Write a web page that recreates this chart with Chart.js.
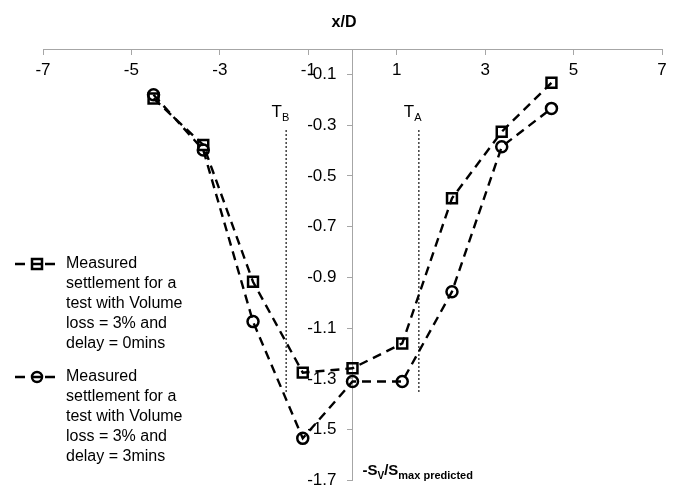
<!DOCTYPE html>
<html>
<head>
<meta charset="utf-8">
<script src="https://cdn.jsdelivr.net/npm/chart.js@4.4.1/dist/chart.umd.min.js"></script>
<style>
  html, body { margin: 0; padding: 0; background: #fff; }
  #chart-box { position: relative; width: 679px; height: 486px; }
</style>
</head>
<body>
<div id="chart-box"><canvas id="settlement-chart" width="679" height="486"></canvas></div>
<script>
// values
const xOverD = [-4.5, -3.375, -2.25, -1.125, 0, 1.125, 2.25, 3.375, 4.5];
const settleDelay0 = [-0.195, -0.378, -0.917, -1.275, -1.258, -1.16, -0.588, -0.326, -0.133];
const settleDelay3 = [-0.18, -0.398, -1.074, -1.534, -1.31, -1.31, -0.956, -0.385, -0.234];

// tunnel axis markers (dotted verticals)
const tunnelBX = [-1.5, -1.5];
const tunnelAX = [1.5, 1.5];
const tunnelY = [-0.32, -1.36];

const xTicks = [-7, -5, -3, -1, 1, 3, 5, 7];
const yTicks = [-1.7, -1.5, -1.3, -1.1, -0.9, -0.7, -0.5, -0.3, -0.1];

const legendDelay0 = ['Measured', 'settlement for a', 'test with Volume', 'loss = 3% and', 'delay = 0mins'];
const legendDelay3 = ['Measured', 'settlement for a', 'test with Volume', 'loss = 3% and', 'delay = 3mins'];

const FONT = "'Liberation Sans', Arial, sans-serif";
const AXIS_GREY = '#a6a6a6';

const toPoints = (xs, ys) => xs.map((x, i) => ({ x: x, y: ys[i] }));

// y tick labels, legend, tunnel labels and axis titles drawn on top of the chart
// (chart.js puts y labels right on a positioned axis line, so they are done here)
const decorations = {
  id: 'decorations',
  afterDraw(chart) {
    const ctx = chart.ctx;
    const xs = chart.scales.x;
    const ys = chart.scales.y;
    const x0 = xs.getPixelForValue(0);
    ctx.save();
    ctx.fillStyle = '#000';

    // y tick labels
    ctx.font = '17px ' + FONT;
    ctx.textAlign = 'right';
    ctx.textBaseline = 'middle';
    yTicks.forEach(v => ctx.fillText(v.toFixed(1), x0 - 16, ys.getPixelForValue(v)));

    ctx.textBaseline = 'alphabetic';

    // x/D title
    ctx.font = 'bold 16px ' + FONT;
    ctx.textAlign = 'center';
    ctx.fillText('x/D', 344, 27);

    // -Sv/Smax predicted title
    ctx.textAlign = 'left';
    let tx = x0 + 10;
    const ty = ys.getPixelForValue(-1.7) - 6;
    const parts = [['-S', 15, 0], ['V', 10, 4], ['/S', 15, 0], ['max predicted', 11, 4]];
    parts.forEach(p => {
      ctx.font = 'bold ' + p[1] + 'px ' + FONT;
      ctx.fillText(p[0], tx, ty + p[2]);
      tx += ctx.measureText(p[0]).width;
    });

    // T_B and T_A labels
    const tLabel = (name, sub, xv) => {
      const px = xs.getPixelForValue(xv);
      const py = ys.getPixelForValue(-0.267);
      ctx.font = '17px ' + FONT;
      ctx.fillText(name, px, py);
      const w = ctx.measureText(name).width;
      ctx.font = '11px ' + FONT;
      ctx.fillText(sub, px + w, py + 4);
    };
    tLabel('T', 'B', -1.83);
    tLabel('T', 'A', 1.16);

    // legend
    const entry = (lines, style, top) => {
      ctx.strokeStyle = '#000';
      ctx.lineWidth = 2.5;
      ctx.setLineDash([]);
      ctx.beginPath();
      ctx.moveTo(15, top); ctx.lineTo(25, top);
      ctx.moveTo(45, top); ctx.lineTo(55, top);
      ctx.moveTo(32, top); ctx.lineTo(42, top);
      ctx.stroke();
      ctx.beginPath();
      if (style === 'rect') {
        ctx.rect(32, top - 5, 10, 10);
      } else {
        ctx.arc(37, top, 5, 0, Math.PI * 2);
      }
      ctx.stroke();
      ctx.font = '16px ' + FONT;
      ctx.textBaseline = 'middle';
      lines.forEach((l, i) => ctx.fillText(l, 66, top + i * 20));
      ctx.textBaseline = 'alphabetic';
    };
    entry(legendDelay0, 'rect', 264);
    entry(legendDelay3, 'circle', 377);

    ctx.restore();
  }
};

const seriesStyle = {
  showLine: true,
  borderColor: '#000',
  borderWidth: 2.4,
  borderDash: [9, 6],
  pointBorderColor: '#000',
  pointBackgroundColor: 'rgba(0,0,0,0)',
  pointBorderWidth: 2.5,
  fill: false
};

const tunnelStyle = {
  showLine: true,
  borderColor: '#000',
  borderWidth: 1.5,
  borderDash: [1.5, 2.5],
  pointRadius: 0,
  fill: false
};

new Chart(document.getElementById('settlement-chart'), {
  type: 'scatter',
  data: {
    datasets: [
      Object.assign({ data: toPoints(tunnelBX, tunnelY) }, tunnelStyle),
      Object.assign({ data: toPoints(tunnelAX, tunnelY) }, tunnelStyle),
      Object.assign({ label: legendDelay0.join(' '), data: toPoints(xOverD, settleDelay0), pointStyle: 'rect', pointRadius: 7 }, seriesStyle),
      Object.assign({ label: legendDelay3.join(' '), data: toPoints(xOverD, settleDelay3), pointStyle: 'circle', pointRadius: 5.5 }, seriesStyle)
    ]
  },
  options: {
    responsive: false,
    animation: false,
    events: [],
    layout: { autoPadding: false, padding: { left: 43, right: 17, top: 49, bottom: 5.5 } },
    plugins: { legend: { display: false }, tooltip: { enabled: false }, title: { display: false } },
    scales: {
      x: {
        type: 'linear',
        position: { y: 0 },
        min: -7,
        max: 7,
        afterBuildTicks: s => { s.ticks = xTicks.map(v => ({ value: v })); },
        grid: { drawOnChartArea: false, drawTicks: true, tickLength: 5, color: AXIS_GREY },
        border: { color: AXIS_GREY, width: 1 },
        ticks: { color: '#000', font: { family: FONT, size: 17 }, padding: 6, autoSkip: false, maxRotation: 0 }
      },
      y: {
        type: 'linear',
        position: { x: 0 },
        min: -1.7,
        max: 0,
        afterBuildTicks: s => { s.ticks = yTicks.map(v => ({ value: v })); },
        afterFit: s => { s.paddingTop = 0; s.paddingBottom = 0; },
        grid: { drawOnChartArea: false, drawTicks: true, tickLength: 5, color: AXIS_GREY },
        border: { color: AXIS_GREY, width: 1 },
        ticks: { display: false }
      }
    }
  },
  plugins: [decorations]
});
</script>
</body>
</html>
